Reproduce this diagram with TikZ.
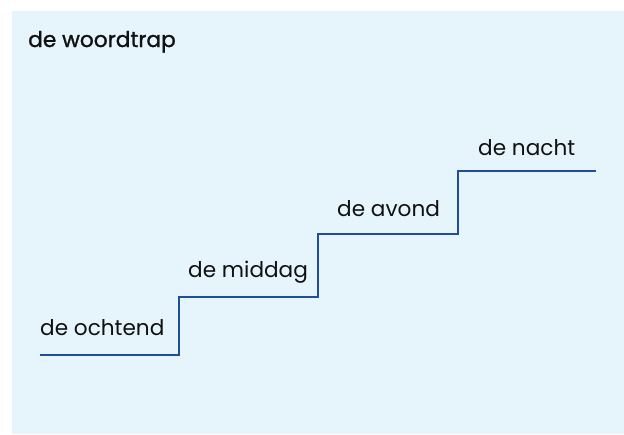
\documentclass[tikz,border=0pt]{standalone}
\usepackage{fontspec}
\setmainfont{Poppins}
\newfontfamily\titlefont[FakeBold=1.2]{Poppins}
\definecolor{bgblue}{HTML}{E6F4FC}
\definecolor{stairblue}{HTML}{1F4E9C}
\definecolor{txt}{HTML}{111111}
\begin{document}
\begin{tikzpicture}[x=1pt,y=-1pt,
  lbl/.style={anchor=base west,inner sep=0pt,text=txt,font=\fontsize{21.6}{24}\selectfont},
  ttl/.style={anchor=base west,inner sep=0pt,text=txt,font=\titlefont\fontsize{21.7}{24}\selectfont},
  stair/.style={draw=stairblue,line width=2.4pt,line join=miter}]
\useasboundingbox (0,0) rectangle (624,434);
\fill[bgblue] (12,11) rectangle (624,434);
\node[ttl] (title) at (28,47) {de woordtrap};
\coordinate (s0) at (40,355);
\coordinate (s1) at (179,355);
\coordinate (s2) at (179,297);
\coordinate (s3) at (318,297);
\coordinate (s4) at (318,234);
\coordinate (s5) at (458,234);
\coordinate (s6) at (458,171);
\coordinate (s7) at (596,171);
\draw[stair] (s0) -- (s1) -- (s2) -- (s3) -- (s4) -- (s5) -- (s6) -- (s7);
\node[lbl] (ochtend) at (40,335) {de ochtend};
\node[lbl] (middag) at (188,277) {de middag};
\node[lbl] (avond) at (337,216) {de avond};
\node[lbl] (nacht) at (478,155) {de nacht};
\end{tikzpicture}
\end{document}
